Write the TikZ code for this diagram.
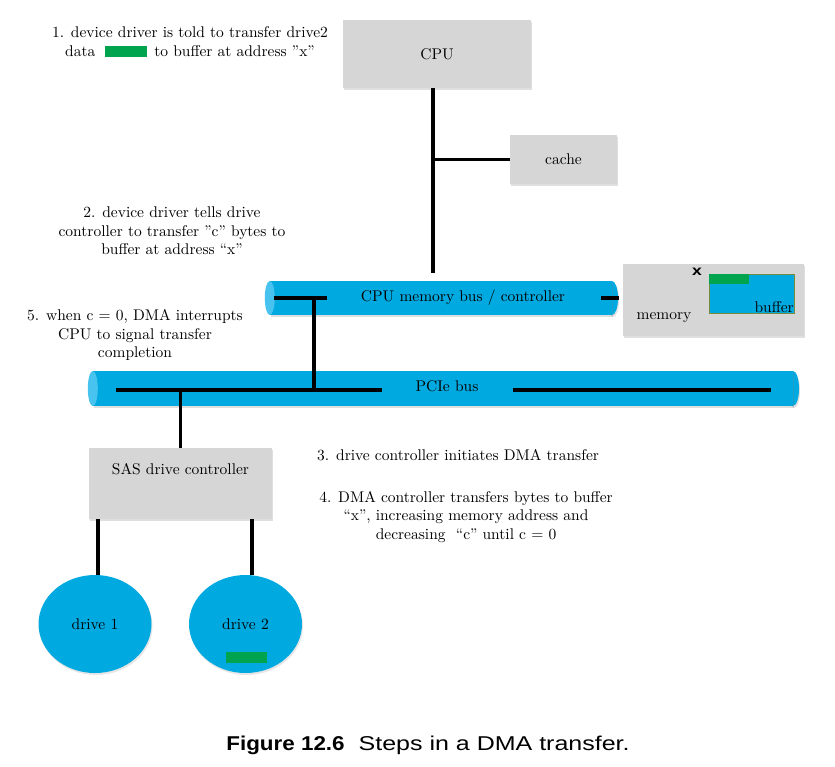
\documentclass[tikz,border=0pt]{standalone}
\usepackage{fontspec}
\usepackage{tikz}
\usetikzlibrary{shapes.geometric,shadows}
\setmainfont{lmroman10-regular.otf}[BoldFont=lmroman10-bold.otf,ItalicFont=lmroman10-italic.otf]
\newfontfamily\capfont{Liberation Sans}[FakeStretch=1.25]
\newfontfamily\capboldfont{Liberation Sans}[FakeStretch=1.12]
\definecolor{busblue}{RGB}{0,169,224}
\definecolor{buscap}{RGB}{72,194,238}
\definecolor{boxgray}{RGB}{214,214,214}
\definecolor{datagreen}{RGB}{0,163,78}
\definecolor{bufedge}{RGB}{120,140,60}

\begin{document}
\begin{tikzpicture}[x=1pt,y=-1pt,
        every node/.style={font=\fontsize{15.5}{18.5}\selectfont},
        softshadow/.style={drop shadow={opacity=0.25,shadow xshift=1pt,shadow yshift=-2pt}},
        box/.style={fill=boxgray,inner sep=0pt,softshadow},
        bus/.style={fill=busblue,inner sep=0pt,softshadow},
        drive/.style={ellipse,fill=busblue,inner sep=0pt,minimum width=113pt,minimum height=98pt,
            drop shadow={opacity=0.2,shadow xshift=1pt,shadow yshift=-2pt}},
        datablock/.style={fill=datagreen,inner sep=0pt},
        wire/.style={line width=3.2pt},
        note/.style={align=center}]
            \useasboundingbox (0,0) rectangle (835,766);
            \node[box,minimum width=188pt,minimum height=68pt] (cpu) at (437,54) {CPU};
            \node[box,minimum width=107pt,minimum height=49pt] (cache) at (563.5,159.5) {cache};

            \fill[busblue,softshadow] (441,298) ++(171,0) ellipse[x radius=6,y radius=17];
            \node[bus,minimum width=342pt,minimum height=34pt] (membus) at (441,298) {};
            \fill[buscap] (membus.west) ellipse[x radius=5,y radius=17];
            \node (membuslabel) at (463,298) {CPU memory bus / controller};

            \node[box,minimum width=181pt,minimum height=72pt] (memory) at (713.5,300) {};
            \node[fill=busblue,draw=bufedge,line width=0.6pt,inner sep=0pt,minimum width=85pt,minimum height=39pt] (buffer) at (751.5,293.5) {};
            \node[datablock,minimum width=40pt,minimum height=10pt,anchor=north west] (bufdata) at (buffer.north west) {};
            \node[anchor=base east,inner sep=0pt] (buflabel) at (794,312) {buffer};
            \node (memlabel) at (664,318) {memory};
            \node[font=\capfont\bfseries\fontsize{14}{14}\selectfont,inner sep=0pt] (xmark) at (697,272) {x};

            \fill[busblue,softshadow] (443,388.5) ++(350,0) ellipse[x radius=6,y radius=17.5];
            \node[bus,minimum width=700pt,minimum height=35pt] (pcie) at (443,388.5) {};
            \fill[buscap] (pcie.west) ellipse[x radius=5,y radius=17.5];
            \node (pcielabel) at (447,386) {PCIe bus};

            \node[box,minimum width=183pt,text height=12pt,text depth=31pt,inner ysep=14pt,anchor=north] (sas) at (180.5,448) {SAS drive controller};
            \node[drive] (drive1) at (95,624) {drive 1};
            \node[drive] (drive2) at (245.5,624) {drive 2};
            \node[datablock,minimum width=41pt,minimum height=11pt] (drivedata) at (246.5,657.5) {};

            \coordinate (cpudrop) at (433,273);
            \coordinate (mbleft) at (274,298);
            \coordinate (mbright) at (327,298);
            \coordinate (mbtap) at (314,298);
            \coordinate (memport) at (601,298);
            \coordinate (memend) at (619,298);
            \coordinate (pcieleft) at (116,390);
            \coordinate (pciegapl) at (382,390);
            \coordinate (pciegapr) at (513,390);
            \coordinate (pcieright) at (771,390);
            \draw[wire] (cpu.south -| cpudrop) -- (cpudrop);
            \draw[wire] (cache.west -| cpudrop) -- (cache.west);
            \draw[wire] (mbleft) -- (mbright);
            \draw[wire] (memport) -- (memend);
            \draw[wire] (pcieleft) -- (pciegapl);
            \draw[wire] (pciegapr) -- (pcieright);
            \draw[wire] (mbtap) -- (mbtap |- pcieleft);
            \draw[wire] (sas.north) -- (sas.north |- pcieleft);
            \draw[wire] ([xshift=3pt]drive1.north) -- ([xshift=3pt]drive1.north |- sas.south);
            \draw[wire] ([xshift=6.5pt]drive2.north) -- ([xshift=6.5pt]drive2.north |- sas.south);

            \node[note] (step1) at (190,42) {1. device driver is told to transfer drive2\\data\hspace{10pt}{\color{datagreen}\rule[-1pt]{42pt}{11pt}}\hspace{7pt}to buffer at address ''x''};
            \node[note] (step2) at (172,231) {2. device driver tells drive\\controller to transfer ''c'' bytes to\\buffer at address ``x''};
            \node[note] (step5) at (135,335) {5. when c = 0, DMA interrupts\\CPU to signal transfer\\completion};
            \node[anchor=west,inner sep=0pt] (step3) at (317,455) {3. drive controller initiates DMA transfer};
            \node[note] (step4) at (466,517) {4. DMA controller transfers bytes to buffer\\``x'', increasing memory address and\\decreasing\ \ ``c'' until c = 0};
            \node[font=\capfont\fontsize{20}{22}\selectfont] (caption) at (428,745) {{\capboldfont\bfseries Figure 12.6}\hspace{14pt}Steps in a DMA transfer.};
        \end{tikzpicture}
\end{document}
